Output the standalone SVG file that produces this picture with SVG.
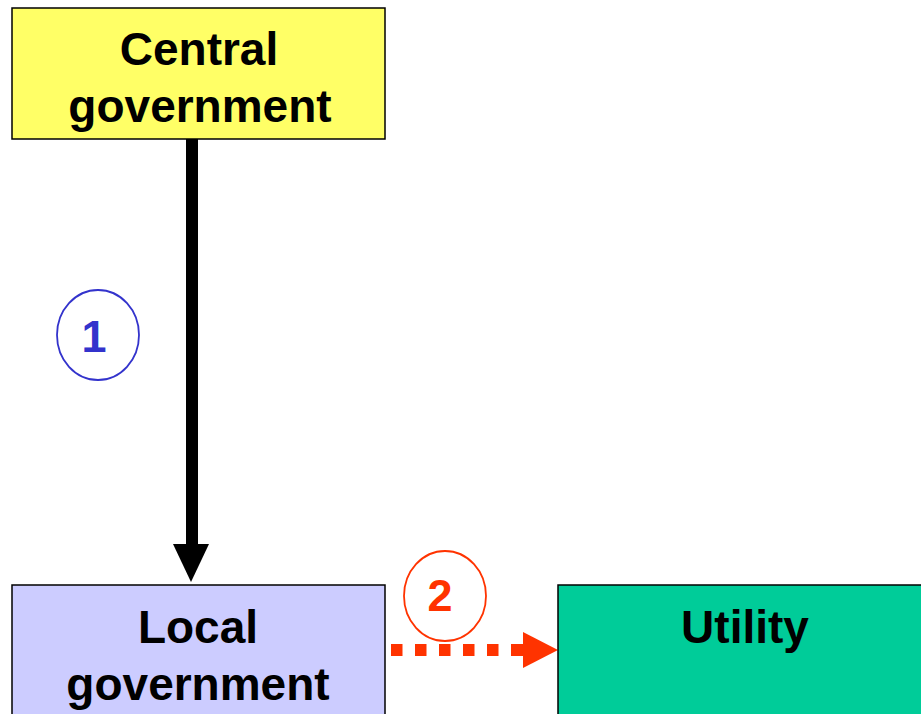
<svg xmlns="http://www.w3.org/2000/svg" width="921" height="714" viewBox="0 0 921 714">
  <style>
    .box { stroke: #000; stroke-width: 1.5; }
    .label { font-family: "Liberation Sans", Arial, sans-serif; font-weight: bold; font-size: 46px; fill: #000; text-anchor: middle; }
    .num { font-family: "Liberation Sans", Arial, sans-serif; font-weight: bold; font-size: 45px; text-anchor: middle; }
  </style>
  <rect width="921" height="714" fill="#fff"/>

  <!-- connectors -->
  <g id="connectors">
    <!-- solid black: central -> local -->
    <rect x="186" y="139" width="12" height="407" fill="#000"/>
    <polygon points="173,544 209,544 191,582" fill="#000"/>
    <!-- dotted red: local -> utility -->
    <line x1="391" y1="650" x2="511" y2="650" stroke="#FF3300" stroke-width="12" stroke-dasharray="11.5 12.5"/>
    <rect x="511" y="644" width="13" height="12" fill="#FF3300"/>
    <polygon points="523,632 558,650 523,668" fill="#FF3300"/>
  </g>

  <g id="central">
    <rect class="box" x="12" y="8" width="373" height="131" fill="#FFFF66"/>
    <text class="label" x="199" y="65">Central</text>
    <text class="label" x="200" y="122">government</text>
  </g>

  <g id="local">
    <rect class="box" x="12" y="585" width="373" height="140" fill="#CCCCFF"/>
    <text class="label" x="198" y="643">Local</text>
    <text class="label" x="198" y="700">government</text>
  </g>

  <g id="utility">
    <rect class="box" x="558" y="585" width="380" height="140" fill="#00CC99"/>
    <text class="label" x="745" y="643">Utility</text>
  </g>

  <g id="step1">
    <ellipse cx="98" cy="335" rx="41" ry="45" fill="none" stroke="#3333CC" stroke-width="1.8"/>
    <text class="num" x="94" y="352" fill="#3333CC">1</text>
  </g>

  <g id="step2">
    <ellipse cx="445" cy="596" rx="41" ry="45" fill="#fff" stroke="#FF3300" stroke-width="1.8"/>
    <text class="num" x="440" y="611" fill="#FF3300">2</text>
  </g>
</svg>
